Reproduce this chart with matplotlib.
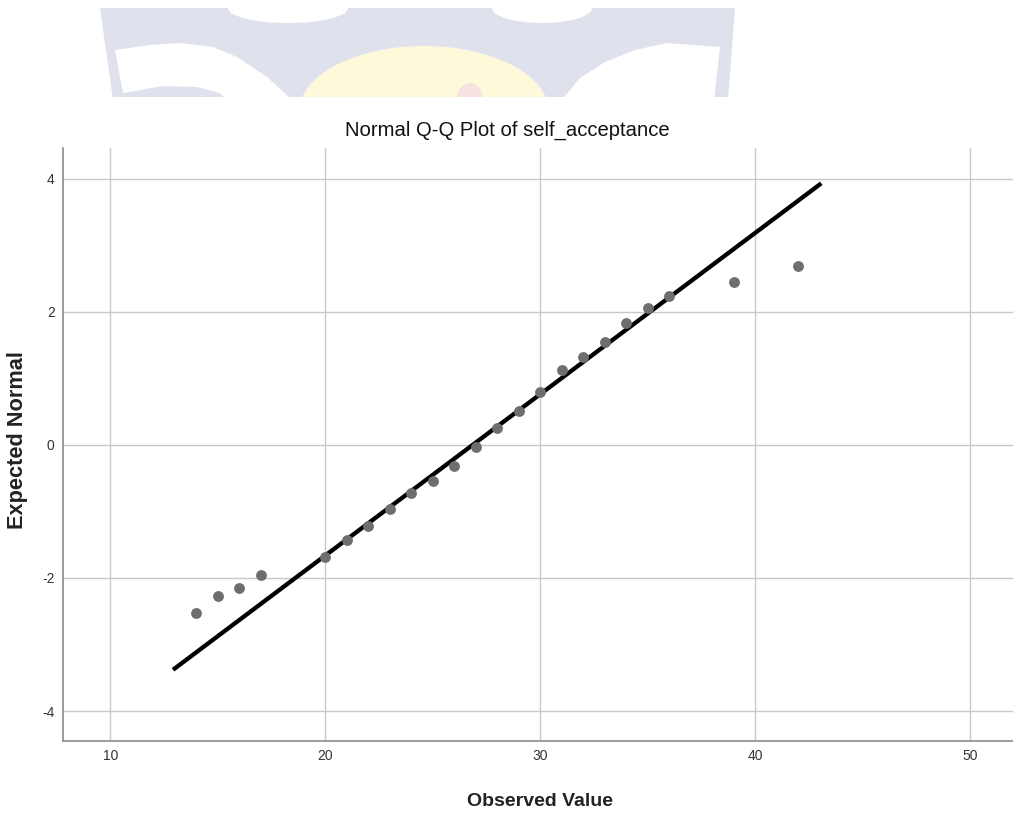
import matplotlib
import numpy as np
import matplotlib.pyplot as plt
from matplotlib.patches import Ellipse, Polygon

matplotlib.use("Agg")

plt.rcParams["font.family"] = ["Liberation Sans", "DejaVu Sans"]
plt.rcParams["axes.unicode_minus"] = False

# observed values and their expected normal scores
observed = [14, 15, 16, 17, 20, 21, 22, 23, 24, 25, 26, 27, 28,
            29, 30, 31, 32, 33, 34, 35, 36, 39, 42]
expected = [-2.53, -2.27, -2.15, -1.95, -1.68, -1.43, -1.22, -0.96, -0.72,
            -0.54, -0.32, -0.03, 0.26, 0.51, 0.80, 1.13, 1.32, 1.55, 1.83,
            2.06, 2.24, 2.45, 2.69]

# reference line endpoints
line_x = [13, 43]
line_y = [-3.36, 3.91]

x_ticks = [10, 20, 30, 40, 50]
y_ticks = [4, 2, 0, -2, -4]

fig = plt.figure(figsize=(10.13, 8.16), dpi=100)

# faint watermark logo at the top (decoration only)
deco = fig.add_axes([0, 1 - 97 / 816, 1, 97 / 816])
deco.set_xlim(0, 1013)
deco.set_ylim(97, 0)
deco.axis("off")
blue = "#dfe2ec"
deco.add_patch(Polygon([[100, 8], [735, 8], [728, 100], [113, 100]],
                       color=blue, lw=0))
deco.add_patch(Ellipse((288, 8), 120, 30, color="white", lw=0))
deco.add_patch(Ellipse((542, 8), 100, 30, color="white", lw=0))
deco.add_patch(Polygon([[115, 50], [150, 45], [180, 43], [213, 47],
                        [237, 57], [267, 77], [292, 100], [227, 100],
                        [220, 93], [197, 87], [163, 86], [123, 93]],
                       color="white", lw=0))
deco.add_patch(Polygon([[562, 100], [580, 78], [605, 62], [635, 50],
                        [667, 43], [720, 47], [714, 100]],
                       color="white", lw=0))
deco.add_patch(Ellipse((424, 112), 250, 132, color="#fff9dc", lw=0))
deco.add_patch(Ellipse((470, 99), 26, 32, color="#f8e2e2", lw=0))

ax = fig.add_axes([63 / 1013, 75 / 816, 950 / 1013, 593 / 816])

ax.plot(line_x, line_y, color="black", linewidth=3.1, zorder=3)
ax.plot(observed, expected, "o", color="#6e6e6e", markersize=7.8,
        markeredgewidth=0, zorder=4)

ax.set_xlim(7.8, 52.0)
ax.set_ylim(-4.45, 4.46)
ax.set_xticks(x_ticks)
ax.set_yticks(y_ticks)
ax.grid(True, color="#c8c8c8", linewidth=1)
ax.set_axisbelow(True)

for side in ["top", "right"]:
    ax.spines[side].set_visible(False)
for side in ["left", "bottom"]:
    ax.spines[side].set_color("#8a8a8a")
    ax.spines[side].set_linewidth(1.2)

ax.tick_params(length=0, labelsize=10, colors="#333333", pad=6)

fig.text(507 / 1013, 1 - 130 / 816, "Normal Q-Q Plot of self_acceptance",
         ha="center", va="center", fontsize=14.6, color="#111111")
fig.text(540 / 1013, 1 - 802 / 816, "Observed Value",
         ha="center", va="center", fontsize=14, fontweight="bold",
         color="#222222")
fig.text(18 / 1013, 1 - 440 / 816, "Expected Normal",
         ha="center", va="center", rotation=90, fontsize=15.7,
         fontweight="bold", color="#222222")

plt.savefig("out.png", dpi=100)
plt.close()
